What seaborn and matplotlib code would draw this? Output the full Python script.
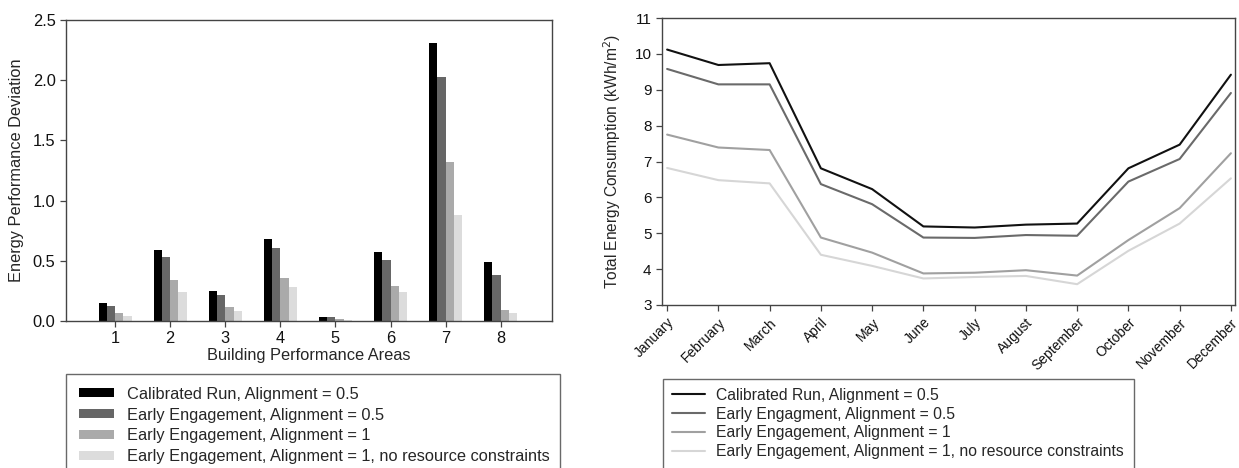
import matplotlib
matplotlib.use("Agg")
import matplotlib.pyplot as plt
import seaborn as sns
import pandas as pd

sns.set_theme(style="ticks")
plt.rcParams["font.family"] = ["Liberation Sans", "DejaVu Sans"]

# ---- data ----
areas = ["1", "2", "3", "4", "5", "6", "7", "8"]
bar_series = [
    "Calibrated Run, Alignment = 0.5",
    "Early Engagement, Alignment = 0.5",
    "Early Engagement, Alignment = 1",
    "Early Engagement, Alignment = 1, no resource constraints",
]
calibrated_dev = [0.147, 0.587, 0.247, 0.681, 0.036, 0.573, 2.31, 0.488]
early_05_dev = [0.125, 0.529, 0.216, 0.604, 0.033, 0.510, 2.025, 0.380]
early_1_dev = [0.064, 0.341, 0.116, 0.355, 0.017, 0.291, 1.321, 0.094]
early_1_nrc_dev = [0.044, 0.238, 0.086, 0.285, 0.011, 0.238, 0.881, 0.066]

months = ["January", "February", "March", "April", "May", "June", "July",
          "August", "September", "October", "November", "December"]
line_series = [
    "Calibrated Run, Alignment = 0.5",
    "Early Engagment, Alignment = 0.5",
    "Early Engagement, Alignment = 1",
    "Early Engagement, Alignment = 1, no resource constraints",
]
calibrated_energy = [10.12, 9.69, 9.74, 6.81, 6.23, 5.19, 5.16, 5.24, 5.27, 6.81, 7.47, 9.42]
early_05_energy = [9.58, 9.15, 9.15, 6.37, 5.81, 4.88, 4.87, 4.95, 4.93, 6.44, 7.07, 8.91]
early_1_energy = [7.75, 7.39, 7.32, 4.88, 4.46, 3.88, 3.90, 3.97, 3.82, 4.81, 5.70, 7.23]
early_1_nrc_energy = [6.82, 6.48, 6.39, 4.40, 4.09, 3.74, 3.78, 3.81, 3.58, 4.51, 5.27, 6.53]

bar_colors = ["#000000", "#666666", "#aaaaaa", "#dcdcdc"]
line_colors = ["#111111", "#6a6a6a", "#a0a0a0", "#d6d6d6"]

# ---- long-format tables ----
bar_values = [calibrated_dev, early_05_dev, early_1_dev, early_1_nrc_dev]
bar_df = pd.DataFrame(
    [(a, s, v) for s, vals in zip(bar_series, bar_values) for a, v in zip(areas, vals)],
    columns=["area", "series", "deviation"],
)
line_values = [calibrated_energy, early_05_energy, early_1_energy, early_1_nrc_energy]
line_df = pd.DataFrame(
    [(m, s, v) for s, vals in zip(line_series, line_values) for m, v in zip(months, vals)],
    columns=["month", "series", "energy"],
)

W, H = 1239, 468
fig = plt.figure(figsize=(W / 100, H / 100), dpi=100)

def fig_rect(x0, y0, x1, y1):
    return [x0 / W, 1 - y1 / H, (x1 - x0) / W, (y1 - y0) / H]

spine_color = "#444444"
left_fs = 11.8
right_fs = 11.2

# ---- left: grouped bars ----
ax1 = fig.add_axes(fig_rect(66, 20, 552, 321))
sns.barplot(data=bar_df, x="area", y="deviation", hue="series", order=areas,
            hue_order=bar_series, palette=bar_colors, saturation=1, width=0.6,
            linewidth=0, errorbar=None, ax=ax1)
ax1.set_xlim(-0.89, 7.93)
ax1.set_ylim(0, 2.5)
ax1.set_yticks([0, 0.5, 1.0, 1.5, 2.0, 2.5])
ax1.set_yticklabels(["0.0", "0.5", "1.0", "1.5", "2.0", "2.5"])
ax1.set_xlabel("Building Performance Areas", fontsize=left_fs, labelpad=1)
ax1.set_ylabel("Energy Performance Deviation", fontsize=left_fs, labelpad=6)
h1, l1 = ax1.get_legend_handles_labels()
ax1.legend_.remove()

# ---- right: monthly lines ----
ax2 = fig.add_axes(fig_rect(662, 18, 1235, 305))
sns.lineplot(data=line_df, x="month", y="energy", hue="series", hue_order=line_series,
             palette=line_colors, sort=False, linewidth=1.5, ax=ax2)
ax2.set_xlim(-0.1, 11.08)
ax2.set_ylim(3, 11)
ax2.set_yticks(range(3, 12))
ax2.set_xlabel("")
ax2.set_ylabel("Total Energy Consumption (kWh/m$^2$)", fontsize=right_fs, labelpad=8)
for lab in ax2.get_xticklabels():
    lab.set_rotation(45)
    lab.set_ha("right")
    lab.set_rotation_mode("anchor")
    lab.set_fontsize(10)
h2, l2 = ax2.get_legend_handles_labels()
ax2.legend_.remove()

for ax in (ax1, ax2):
    for sp in ax.spines.values():
        sp.set_visible(True)
        sp.set_color(spine_color)
        sp.set_linewidth(1.0)
    ax.tick_params(direction="out", length=4, width=0.9, color=spine_color,
                   labelcolor="#111111")
ax1.tick_params(labelsize=left_fs)
ax2.tick_params(axis="y", labelsize=11)

# ---- legends below each panel ----
leg_kw = dict(loc="upper left", mode="expand", frameon=True, fancybox=False,
              borderaxespad=0)
leg1 = fig.legend(h1, l1, bbox_to_anchor=(66 / W, 1 - 374 / H, (560 - 66) / W, 0.001),
                  fontsize=left_fs, handlelength=2.15, handleheight=0.5,
                  handletextpad=0.75, labelspacing=0.36, borderpad=0.8, **leg_kw)
leg2 = fig.legend(h2, l2, bbox_to_anchor=(663 / W, 1 - 379 / H, (1134 - 663) / W, 0.001),
                  fontsize=11.3, handlelength=2.1, handletextpad=0.65,
                  labelspacing=0.24, borderpad=0.6, **leg_kw)
for leg in (leg1, leg2):
    fr = leg.get_frame()
    fr.set_edgecolor(spine_color)
    fr.set_linewidth(1.0)
    fr.set_boxstyle("square", pad=0)

fig.savefig("out.png", dpi=100)
